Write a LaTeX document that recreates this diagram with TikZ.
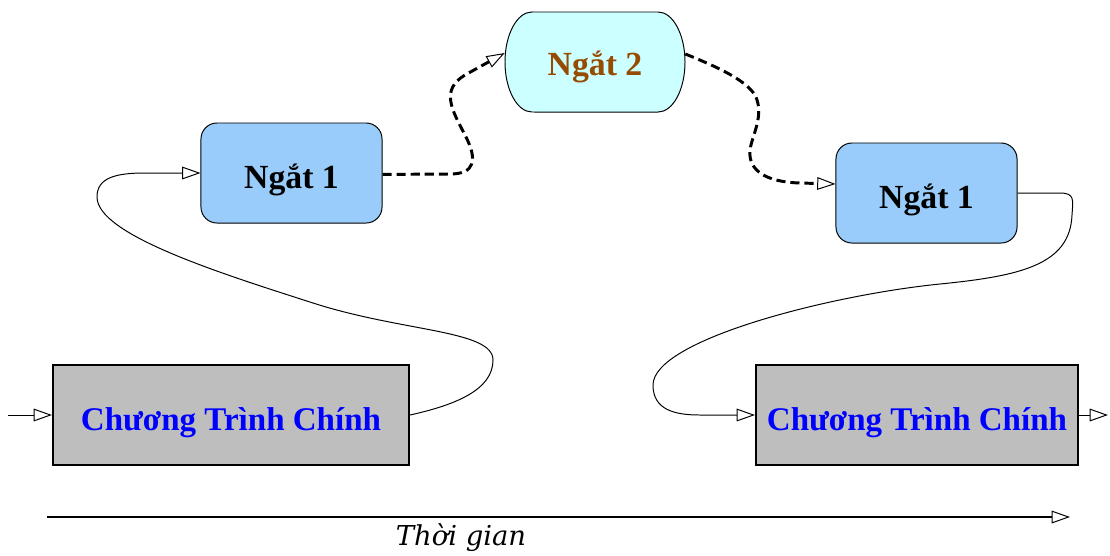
\documentclass[tikz,border=0pt]{standalone}
\usepackage{fontspec}
\setmainfont{Liberation Serif}
\newfontfamily\axisfont{DejaVu Serif}
\usetikzlibrary{arrows.meta}

\definecolor{progfill}{RGB}{190,190,190}
\definecolor{progtext}{RGB}{0,0,255}
\definecolor{irqfill}{RGB}{153,204,250}
\definecolor{nestfill}{RGB}{204,255,255}
\definecolor{nesttext}{RGB}{150,75,0}

% box text set on a baseline below the box centre
\newcommand{\boxtext}[2][0.375cm]{\raisebox{-#1}[0pt][0pt]{#2}}

\tikzset{
  prog/.style={draw, line width=1.4pt, fill=progfill, inner sep=0pt,
    minimum height=2.5cm, text=progtext,
    font=\fontsize{23.5}{28}\selectfont\bfseries},
  irq/.style={draw, line width=0.7pt, fill=irqfill, rounded corners=0.4cm,
    inner sep=0pt, minimum width=4.525cm, minimum height=2.5cm,
    font=\fontsize{24}{28}\selectfont\bfseries},
  nested/.style={inner sep=0pt, minimum width=4.5cm, minimum height=2.5cm,
    text=nesttext, font=\fontsize{24}{28}\selectfont\bfseries},
  tip/.style={-{Triangle[open,length=13pt,width=9pt,line width=0.7pt]}},
  flow/.style={tip, line width=0.7pt},
  nestflow/.style={tip, line width=2.1pt, dash pattern=on 6.5pt off 3.5pt},
}

\begin{document}
\begin{tikzpicture}[x=0.025cm, y=-0.025cm]
\useasboundingbox (0,0) rectangle (1110,555);

% main program, before and after the interrupts
\node[prog, minimum width=8.9cm]  (main1) at (231,415) {\boxtext{Chương Trình Chính}};
\node[prog, minimum width=8.05cm] (main2) at (917,415) {\boxtext{Chương Trình Chính}};

% first-level interrupt, entered and resumed
\node[irq] (irqA) at (291.5,173) {\boxtext{Ngắt 1}};
\node[irq] (irqB) at (926.5,193) {\boxtext{Ngắt 1}};

% nested interrupt with elliptical ends
\fill[nestfill] (532,12) -- (658,12)
  arc[start angle=90, end angle=-90, x radius=0.675cm, y radius=1.25cm]
  -- (532,112)
  arc[start angle=270, end angle=90, x radius=0.675cm, y radius=1.25cm] -- cycle;
\draw[line width=0.7pt] (532,12) -- (658,12)
  arc[start angle=90, end angle=-90, x radius=0.675cm, y radius=1.25cm]
  -- (532,112)
  arc[start angle=270, end angle=90, x radius=0.675cm, y radius=1.25cm] -- cycle;
\node[nested] (irqN) at (595,62) {\boxtext[0.33cm]{Ngắt 2}};

% entry and exit of the main program
\coordinate (entry) at (8,415);
\coordinate (exit) at (1108,415);
\draw[flow] (entry) -- (main1.west);
\draw[flow] (main2.east) -- (exit);

% main program -> Ngat 1
\draw[flow] (main1.east) .. controls (455,405) and (493,390) .. (493,360)
  .. controls (493,330) and (403,332) .. (313,303)
  .. controls (223,274) and (97,235) .. (97,197)
  .. controls (97,178) and (115,173) .. (145,173) -- (irqA.west);

% Ngat 1 -> Ngat 2
\draw[nestflow] ([yshift=-1pt]irqA.east) -- (450,174)
  .. controls (475,174) and (478,160) .. (465,135)
  .. controls (452,110) and (440,90) .. (465,75)
  -- ([yshift=0.225cm]irqN.west);

% Ngat 2 -> Ngat 1
\draw[nestflow] ([yshift=0.2cm]irqN.east) .. controls (720,68) and (745,80) .. (755,95)
  .. controls (765,115) and (752,135) .. (750,150)
  .. controls (748,170) and (765,182) .. (800,183)
  -- ([yshift=0.225cm]irqB.west);

% Ngat 1 -> main program
\draw[flow] (irqB.east) -- (1060,193)
  .. controls (1075,193) and (1073,200) .. (1072,215)
  .. controls (1070,265) and (1020,276) .. (940,284)
  .. controls (830,295) and (653,340) .. (653,385)
  .. controls (653,410) and (675,415) .. (700,415) -- (main2.west);

% time axis
\coordinate (t0) at (47,517);
\coordinate (t1) at (1070,517);
\draw[tip, line width=1.2pt] (t0) -- (t1);
\node[font=\axisfont\itshape\fontsize{19.5}{22}\selectfont, anchor=base] (time) at (461,545) {Thời gian};
\end{tikzpicture}
\end{document}
